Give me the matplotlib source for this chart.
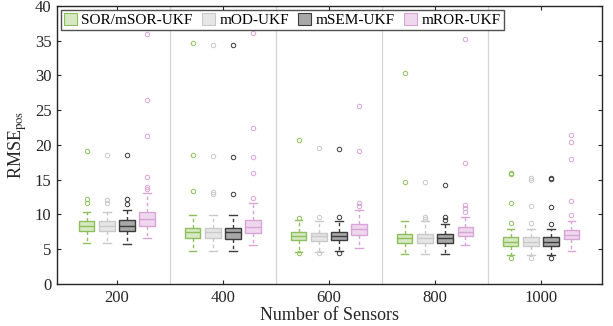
import matplotlib
matplotlib.use("Agg")
import matplotlib.pyplot as plt
from matplotlib.patches import Patch

plt.rcParams['font.family'] = ['Liberation Serif', 'DejaVu Serif']
plt.rcParams['mathtext.fontset'] = 'stix'

sensores = [200, 400, 600, 800, 1000]
metodos = ['SOR/mSOR-UKF', 'mOD-UKF', 'mSEM-UKF', 'mROR-UKF']
desplaz = [-57, -19, 19, 57]

# estadisticas, por metodo y por numero de sensores
mediana = [
    [8.4, 7.5, 6.95, 6.55, 6.1],
    [8.4, 7.5, 6.85, 6.55, 6.1],
    [8.4, 7.5, 6.9, 6.55, 6.1],
    [9.4, 8.2, 7.85, 7.5, 7.05],
]
q1 = [
    [7.6, 6.55, 6.3, 5.95, 5.45],
    [7.6, 6.55, 6.2, 5.95, 5.45],
    [7.6, 6.5, 6.3, 5.95, 5.45],
    [8.4, 7.3, 7.1, 6.9, 6.4],
]
q3 = [
    [9.05, 8.1, 7.5, 7.15, 6.7],
    [9.05, 8.1, 7.4, 7.15, 6.7],
    [9.15, 8.1, 7.5, 7.15, 6.75],
    [10.3, 9.15, 8.6, 8.15, 7.7],
]
bigote_inf = [
    [5.85, 4.8, 4.65, 4.25, 4.1],
    [5.85, 4.8, 4.55, 4.25, 4.1],
    [5.8, 4.8, 4.7, 4.25, 4.1],
    [6.65, 5.55, 5.2, 5.6, 4.75],
]
bigote_sup = [
    [10.4, 9.9, 9.2, 9.05, 7.95],
    [10.4, 9.9, 9.1, 9.05, 7.95],
    [10.6, 9.9, 9.1, 8.6, 7.95],
    [13.1, 11.7, 10.6, 9.7, 9.0],
]
atipicos = [
    [[11.6, 12.2, 19.1], [13.4, 18.6, 34.6], [9.5, 4.4, 20.7], [14.7, 30.4], [8.7, 3.7, 11.6, 15.8, 16.0]],
    [[11.7, 12.1, 18.5], [13.0, 13.2, 18.4, 34.3], [9.7, 4.4, 19.6], [9.35, 9.7, 14.6], [8.7, 3.7, 11.2, 15.0, 15.2]],
    [[11.5, 12.2, 18.5], [13.0, 18.3, 34.3], [9.6, 4.4, 19.4], [9.2, 9.7, 14.3], [8.6, 3.7, 11.0, 15.1, 15.3]],
    [[13.7, 14.0, 15.4, 21.3, 26.5, 36.0], [12.3, 15.9, 18.2, 22.5, 36.1], [11.25, 11.6, 19.1, 25.6],
     [10.4, 10.9, 11.35, 17.4, 35.3], [9.9, 12.0, 18.0, 20.4, 21.4]],
]

relleno = ['#d6e9c3', '#e6e6e6', '#a8a8a8', '#efd7ee']
borde = ['#8dc05c', '#c9c9c9', '#3c3c3c', '#d9a4d6']

fig = plt.figure(figsize=(6.13, 3.26), dpi=100)
ax = fig.add_axes([0.093, 0.129, 0.889, 0.853])

for sep in [300, 500, 700, 900]:
    ax.axvline(sep, color='#d4d4d4', lw=0.9, zorder=0)

for m in range(4):
    stats = []
    for j in range(5):
        stats.append({'med': mediana[m][j], 'q1': q1[m][j], 'q3': q3[m][j],
                      'whislo': bigote_inf[m][j], 'whishi': bigote_sup[m][j],
                      'fliers': atipicos[m][j]})
    pos = [s + desplaz[m] for s in sensores]
    ax.bxp(stats, positions=pos, widths=29, patch_artist=True, manage_ticks=False,
           boxprops=dict(facecolor=relleno[m], edgecolor=borde[m], lw=1.0),
           medianprops=dict(color=borde[m], lw=1.0),
           whiskerprops=dict(color=borde[m], lw=1.0, ls=(0, (2.5, 2))),
           capprops=dict(color=borde[m], lw=1.0),
           capwidths=14,
           flierprops=dict(marker='o', markersize=3.2, markerfacecolor='none',
                           markeredgecolor=borde[m], markeredgewidth=0.7))

ax.set_xlim(87, 1115)
ax.set_ylim(0, 40)
ax.set_xticks(sensores)
ax.set_xticklabels([str(s) for s in sensores])
ax.set_yticks(range(0, 41, 5))
ax.tick_params(direction='in', length=3, width=0.8, labelsize=12, top=True, right=True,
               color='#262626', labelcolor='#262626', pad=4)
for sp in ax.spines.values():
    sp.set_color('#262626')
    sp.set_linewidth(1.0)

ax.set_xlabel('Number of Sensors', fontsize=13, color='#262626', labelpad=1)
ax.set_ylabel(r'RMSE$_{\mathrm{pos}}$', fontsize=13, color='#262626', labelpad=4)

handles = [Patch(facecolor=relleno[m], edgecolor=borde[m], lw=0.8) for m in range(4)]
leg = ax.legend(handles, metodos, loc='upper left', ncol=4, fontsize=11, frameon=True,
                fancybox=False, edgecolor='#262626', borderpad=0.2, handlelength=0.85,
                handleheight=0.85, handletextpad=0.3, columnspacing=0.6,
                bbox_to_anchor=(0.0, 1.0), borderaxespad=0.25)
leg.get_frame().set_linewidth(1.0)

fig.savefig('out.png', dpi=100)
